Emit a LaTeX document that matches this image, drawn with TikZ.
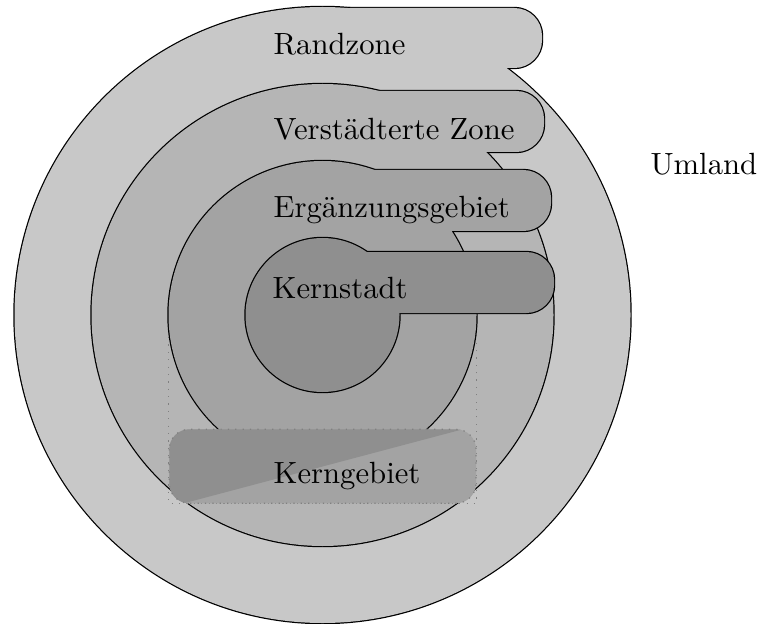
\documentclass[tikz,border=0pt]{standalone}
\usepackage{tikz}
\definecolor{randcol}{RGB}{200,200,200}
\definecolor{verstcol}{RGB}{181,181,181}
\definecolor{ergcol}{RGB}{163,163,163}
\definecolor{kerncol}{RGB}{143,143,143}
\tikzset{
  zoneedge/.style={draw=black, line width=0.8pt},
  tabround/.style={rounded corners=9pt},
  label/.style={anchor=base west, inner sep=0pt, font=\normalsize},
  guideline/.style={draw=gray, dotted, line width=0.4pt},
}
% one zone: a disc with a rounded tab on the right; the doubled stroke is
% drawn first and half of it is covered by the fill, so only the outer
% contour of the union stays visible
% #1 colour, #2 radius, #3 tab top, #4 tab bottom, #5 tab right end
\newcommand{\drawzone}[5]{%
  \path[zoneedge] (322.5,-315) circle[radius=#2];
  \path[zoneedge, tabround] (322.5,-#3) rectangle (#5,-#4);
  \path[fill=#1] (322.5,-315) circle[radius=#2];
  \path[fill=#1, tabround] (322.5,-#3) rectangle (#5,-#4);
}
\begin{document}
\begin{tikzpicture}[x=0.3257pt, y=0.3257pt]
  \useasboundingbox (0,0) rectangle (757,-623);

  \drawzone{randcol}{308}{8}{68}{542}
  \drawzone{verstcol}{231}{91}{152}{544}

  % frame of the core area below the centre
  \draw[guideline] (168.5,-315) rectangle (476.5,-503.3);

  \drawzone{ergcol}{154}{170}{231}{551}
  \drawzone{kerncol}{77}{252}{313}{554}

  % core area: split fill, dotted border
  \begin{scope}
    \clip[rounded corners=6.5pt] (169.3,-429.3) rectangle (476,-503.3);
    \fill[ergcol] (160,-420) rectangle (485,-510);
    \fill[kerncol] (160,-509.6) -- (485,-423.4) -- (160,-423.4) -- cycle;
  \end{scope}
  \draw[guideline, rounded corners=6.5pt] (169.3,-429.3) rectangle (476,-503.3);

  \node[label] (rand)  at (273,-55)  {Randzone};
  \node[label] (verst) at (273,-140) {Verstädterte Zone};
  \node[label] (erg)   at (273,-218) {Ergänzungsgebiet};
  \node[label] (kern)  at (272,-298) {Kernstadt};
  \node[label] (kgeb)  at (273,-483) {Kerngebiet};
  \node[label] (um)    at (650,-175) {Umland};
\end{tikzpicture}
\end{document}
